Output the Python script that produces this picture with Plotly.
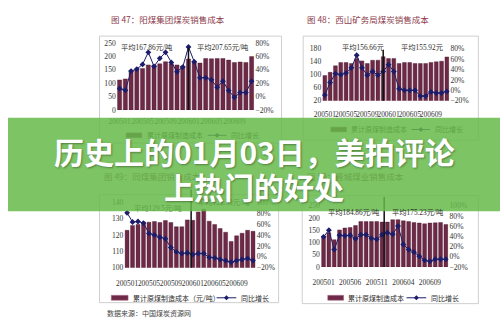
import plotly.graph_objects as go

W, H = 500, 331
def px(x): return x / W
def py(y): return 1 - y / H

months = list(range(24))

# Chart 47
c1_cost = [112, 116, 145, 150, 155, 168, 168, 172, 180, 172, 168, 164,
           190, 180, 175, 192, 191, 192, 192, 186, 177, 179, 177, 199]
c1_yoy = [12, 9.5, 38, 41, 48, 66, 45, 57, 66, 51, 37, 44,
          74, 52, 28, 28, 25, 14, 23, 9, -1, 6, 6, 23]
# Chart 48
c2_cost = [97, 107, 127, 137, 137, 134, 149, 142, 134, 144, 144, 155,
           149, 149, 134, 137, 137, 134, 134, 134, 137, 139, 141, 154]
c2_yoy = [-9, 15, 32, 30, 33, 43, 67, 43, 29, 36, 29, 36,
          49, 36, 3, 0, 0, 0, -11, -11, -3, -5, -5, -2]
# Chart 49
c3_cost = [122.9, 125.9, 126.5, 127.9, 127.9, 128.3, 127.7, 128.9, 127.7, 125.1, 125.1, 129.3,
           129.0, 134.2, 135.8, 128.5, 126.5, 124.0, 121.7, 116.1, 119.5, 121.1, 122.9, 122.3]
c3_yoy = [81, 64, 65, 62, 43, 40, 36, 33, 17, 9, 6, 7,
          4, 6, 6, -1, -2, -5, -7, -10, -7, -5, -3, -7]
# Chart 50
c4_cost = [123, 140, 111, 151, 159, 161, 169, 185, 185, 185, 185, 183,
           183, 193, 193, 188, 185, 181, 179, 176, 179, 180, 181, 173]
c4_yoy = [39, 52, 14, 42, 41, 42, 35, 43, 43, 36, 34, 43,
          47, 44, 60, 24, 14, 9, 1, -7, -9, -5, -5, -5]

ticks_a_vals = [0, 4, 8, 12, 16, 20]
ticks_a_text = ["200501", "200505", "200509", "200601", "200605", "200609"]
ticks_b_vals = [0, 5, 10, 15, 20]
ticks_b_text = ["200501", "200506", "200511", "200604", "200609"]

titles = ["图 47：阳煤集团煤炭销售成本", "图 48：西山矿务局煤炭销售成本",
          "图 49：同煤集团销售成本", "图 50：晋城煤业销售成本"]
avg_labels = [("平均167.86元/吨", "平均207.65元/吨"), ("平均156.66元", "平均155.92元"),
              ("平均129.5元/吨", "平均122.53元/吨"), ("平均184.86元/吨", "平均175.23元/吨")]
legend_cost = ["累计原煤制造成本", "累计原煤制造成本", "累计原煤制造成本（元/吨）", "累计原煤制造成本"]
legend_yoy = "同比增长"
source_text = "数据来源：中国煤炭资源网"
banner_line1 = "历史上的01月03日，美拍评论"
banner_line2 = "上热门的好处"

BAR = "#6d2946"
BAR_EDGE = "#4a1830"
LINE = "#1c1c6a"
SERIF = "Liberation Serif, Noto Sans CJK SC"
CJK = "Noto Sans CJK SC"
TXT = "#333333"

charts = [
    dict(cost=c1_cost, yoy=c1_yoy, xd=(110.5, 250.5), yd=(40, 109), yl=(0, 250), ltick=50,
         yr=(-20, 80), tv=ticks_a_vals, tt=ticks_a_text, div=12, divtop=0.93, so=6),
    dict(cost=c2_cost, yoy=c2_yoy, xd=(319.3, 448.7), yd=(45.7, 99.5), yl=(20, 180), ltick=40,
         yr=(-20, 80), tv=ticks_a_vals, tt=ticks_a_text, div=11, divtop=0.97, so=8),
    dict(cost=c3_cost, yoy=c3_yoy, xd=(118.2, 251.8), yd=(204, 271), yl=(100, 140), ltick=10,
         yr=(-20, 100), tv=ticks_a_vals, tt=ticks_a_text, div=11.7, divtop=1.2, so=10),
    dict(cost=c4_cost, yoy=c4_yoy, xd=(318, 447.7), yd=(207.3, 270.3), yl=(0, 250), ltick=50,
         yr=(-20, 100), tv=ticks_b_vals, tt=ticks_b_text, div=11.4, divtop=1.14, so=10),
]

fig = go.Figure()
layout = {}
shapes = []
annotations = []

for i, c in enumerate(charts):
    xn = "x" if i == 0 else f"x{i+1}"
    yl_n = 2 * i + 1
    yr_n = 2 * i + 2
    yln = "y" if yl_n == 1 else f"y{yl_n}"
    yrn = f"y{yr_n}"
    fig.add_trace(go.Bar(x=months, y=c["cost"], xaxis=xn, yaxis=yln,
                         marker=dict(color=BAR, line=dict(color=BAR_EDGE, width=0.4)),
                         width=0.72, showlegend=False))
    fig.add_trace(go.Scatter(x=months, y=[v / 100 for v in c["yoy"]], xaxis=xn, yaxis=yrn,
                             mode="lines+markers", line=dict(color=LINE, width=1),
                             marker=dict(symbol="diamond", size=4.5, color=LINE),
                             showlegend=False))
    xkey = "xaxis" if i == 0 else f"xaxis{i+1}"
    ykl = "yaxis" if yl_n == 1 else f"yaxis{yl_n}"
    ykr = f"yaxis{yr_n}"
    layout[xkey] = dict(domain=[px(c["xd"][0]), px(c["xd"][1])], range=[-0.5, 23.5],
                        anchor=yln, tickvals=c["tv"], ticktext=c["tt"], showgrid=False,
                        zeroline=False, showline=False, ticks="", tickangle=0,
                        tickfont=dict(family=SERIF, size=7.4, color=TXT),
                        ticklabelstandoff=c["so"])
    lo, hi = c["yl"]
    layout[ykl] = dict(domain=[py(c["yd"][1]), py(c["yd"][0])], range=[lo, hi], anchor=xn,
                       tickvals=list(range(lo, hi + 1, c["ltick"])), showgrid=False,
                       zeroline=False, showline=False, ticks="",
                       tickfont=dict(family=SERIF, size=7.6, color=TXT))
    r0, r1 = c["yr"]
    layout[ykr] = dict(overlaying=yln, side="right", anchor=xn, range=[r0 / 100, r1 / 100],
                       tickvals=[v / 100 for v in range(r0, r1 + 1, 20)], tickformat=".0%",
                       showgrid=False, zeroline=False, showline=False, ticks="",
                       tickfont=dict(family=SERIF, size=7.6, color=TXT))
    shapes.append(dict(type="line", xref=xn, yref=f"{yln} domain", x0=c["div"], x1=c["div"],
                       y0=0, y1=c["divtop"], line=dict(color="#111111", width=1.5), layer="above"))

frames = [(93, 33, 278, 143), (300, 33, 478, 140), (93, 196, 275, 307), (299, 197, 478, 308)]
for (x0, y0, x1, y1) in frames:
    shapes.append(dict(type="rect", xref="paper", yref="paper", x0=px(x0), x1=px(x1),
                       y0=py(y1), y1=py(y0), line=dict(color="#cfcfcf", width=1), layer="below"))

leg = [
    (135, 120, 136, 203, 222),
    (129, 328, 344, 410, 429),
    (302, 105, 122, 212, 232),
    (302, 325, 341, 405, 425),
]
for (y, s0, s1, l0, l1) in leg:
    shapes.append(dict(type="rect", xref="paper", yref="paper", x0=px(s0), x1=px(s1),
                       y0=py(y + 2.5), y1=py(y - 2.5), fillcolor=BAR,
                       line=dict(color="#a06080", width=0.6), layer="above"))
    shapes.append(dict(type="line", xref="paper", yref="paper", x0=px(l0), x1=px(l1),
                       y0=py(y), y1=py(y), line=dict(color=LINE, width=1), layer="above"))
    m = (l0 + l1) / 2
    shapes.append(dict(type="path", xref="paper", yref="paper",
                       path=f"M {px(m-2.5)} {py(y)} L {px(m)} {py(y-2.5)} "
                            f"L {px(m+2.5)} {py(y)} L {px(m)} {py(y+2.5)} Z",
                       fillcolor=LINE, line=dict(width=0), layer="above"))

BANNER = "rgba(102,186,74,0.85)"
shapes.append(dict(type="rect", xref="paper", yref="paper", x0=0, x1=1, y0=py(213), y1=py(117),
                   fillcolor=BANNER, line=dict(width=0), layer="above"))

def blend(rgb, under):
    if not under:
        return "rgb(%d,%d,%d)" % rgb
    g = (102, 186, 74)
    return "rgb(%d,%d,%d)" % tuple(int(0.85 * g[k] + 0.15 * rgb[k]) for k in range(3))

TITLE_RGB = (140, 60, 75)
DARK_RGB = (45, 45, 45)

def ann(text, x, y, size, rgb, under=False, family=SERIF, xanchor="center", **kw):
    annotations.append(dict(text=text, x=px(x), y=py(y), xref="paper", yref="paper",
                            showarrow=False, xanchor=xanchor, yanchor="middle",
                            font=dict(family=family, size=size, color=blend(rgb, under)), **kw))

ann(titles[0], 103, 15, 8.5, TITLE_RGB, xanchor="left", family=CJK)
ann(titles[1], 302, 15, 8.5, TITLE_RGB, xanchor="left", family=CJK)
ann(titles[2], 96, 177, 8.5, TITLE_RGB, under=True, xanchor="left", family=CJK)
ann(titles[3], 302, 177, 8.5, TITLE_RGB, under=True, xanchor="left", family=CJK)

ann(avg_labels[0][0], 141, 45, 7.3, DARK_RGB)
ann(avg_labels[0][1], 219, 45, 7.3, DARK_RGB)
ann(avg_labels[1][0], 361, 45, 7.3, DARK_RGB)
ann(avg_labels[1][1], 421, 45, 7.3, DARK_RGB)
ann(avg_labels[2][0], 152, 210, 7.3, DARK_RGB, under=True)
ann(avg_labels[2][1], 220, 204, 7.3, DARK_RGB, under=True)
ann(avg_labels[3][0], 352, 214, 7.3, DARK_RGB)
ann(avg_labels[3][1], 417, 214, 7.3, DARK_RGB)

ann(legend_cost[0], 139, 135, 7, DARK_RGB, under=True, xanchor="left", family=CJK)
ann(legend_yoy, 225, 135, 7, DARK_RGB, under=True, xanchor="left", family=CJK)
ann(legend_cost[1], 347, 129, 7, DARK_RGB, under=True, xanchor="left", family=CJK)
ann(legend_yoy, 432, 129, 7, DARK_RGB, under=True, xanchor="left", family=CJK)
ann(legend_cost[2], 125, 302, 7, DARK_RGB, xanchor="left", family=CJK)
ann(legend_yoy, 235, 302, 7, DARK_RGB, xanchor="left", family=CJK)
ann(legend_cost[3], 344, 302, 7, DARK_RGB, xanchor="left", family=CJK)
ann(legend_yoy, 428, 302, 7, DARK_RGB, xanchor="left", family=CJK)

ann(source_text, 99, 318, 7, (70, 70, 70), xanchor="left", family=CJK)

for t, y in [(banner_line1, 151), (banner_line2, 187)]:
    annotations.append(dict(text=f"<b>{t}</b>", x=0.5, y=py(y), xref="paper", yref="paper",
                            showarrow=False, xanchor="center", yanchor="middle",
                            font=dict(family=CJK, size=30, color="white",
                                      shadow="1px 1px 2px rgba(0,0,0,0.35)")))

fig.update_layout(width=W, height=H, margin=dict(l=0, r=0, t=0, b=0),
                  paper_bgcolor="white", plot_bgcolor="white", showlegend=False,
                  bargap=0.28, shapes=shapes, annotations=annotations, **layout)

fig.write_html("out.html")
